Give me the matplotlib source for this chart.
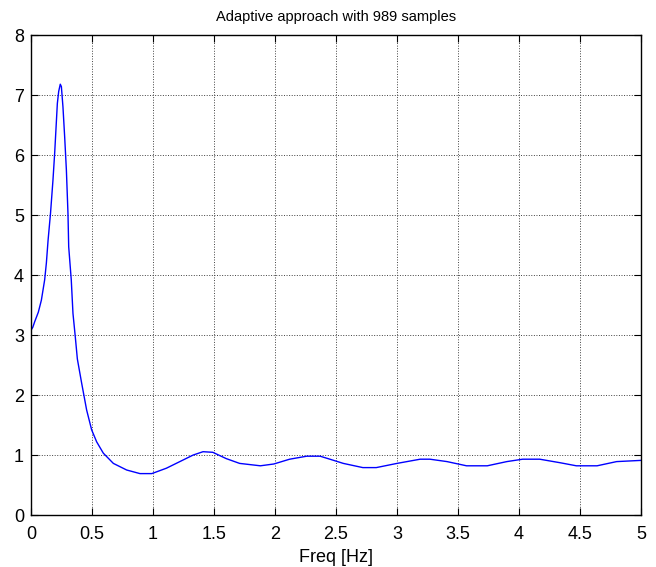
import matplotlib
matplotlib.use("Agg")
import matplotlib.pyplot as plt

# values
freq = [0.0, 0.015, 0.03, 0.06, 0.085, 0.112, 0.126, 0.14, 0.16, 0.18, 0.194,
        0.216, 0.227, 0.24, 0.249, 0.262, 0.276, 0.29, 0.303, 0.309, 0.33,
        0.344, 0.363, 0.38, 0.415, 0.456, 0.497, 0.538, 0.593, 0.675, 0.784,
        0.893, 0.99, 1.11, 1.22, 1.33, 1.41, 1.49, 1.6, 1.71, 1.88, 1.99, 2.12,
        2.26, 2.37, 2.45, 2.56, 2.72, 2.83, 3.0, 3.19, 3.27, 3.41, 3.57, 3.74,
        3.9, 4.03, 4.17, 4.34, 4.47, 4.64, 4.8, 5.0]
power = [3.08, 3.13, 3.22, 3.38, 3.58, 3.92, 4.2, 4.58, 5.03, 5.58, 6.03,
         6.86, 7.06, 7.18, 7.14, 6.8, 6.3, 5.75, 5.03, 4.47, 3.92,
         3.36, 2.97, 2.6, 2.2, 1.75, 1.42, 1.22, 1.03, 0.86, 0.75,
         0.69, 0.69, 0.78, 0.89, 1.0, 1.055, 1.045, 0.94, 0.86, 0.82, 0.85, 0.93,
         0.98, 0.98, 0.93, 0.86, 0.79, 0.79, 0.86, 0.93, 0.93, 0.89, 0.82, 0.82,
         0.89, 0.93, 0.93, 0.87, 0.82, 0.82, 0.89, 0.91]

x_ticks = [0, 0.5, 1, 1.5, 2, 2.5, 3, 3.5, 4, 4.5, 5]
x_labels = ["0", "0.5", "1", "1.5", "2", "2.5", "3", "3.5", "4", "4.5", "5"]
y_ticks = [0, 1, 2, 3, 4, 5, 6, 7, 8]

plt.rcParams['font.family'] = ['Liberation Sans', 'DejaVu Sans']

fig = plt.figure(figsize=(6.56, 5.67), dpi=100)
ax = fig.add_axes([31 / 656, 52 / 567, 610 / 656, 480 / 567])

ax.plot(freq, power, color='#0000ff', linewidth=1.0)

ax.set_xlim(0, 5)
ax.set_ylim(0, 8)
ax.set_xticks(x_ticks)
ax.set_xticklabels(x_labels)
ax.set_yticks(y_ticks)
ax.grid(True, color='#404040', linestyle=':', linewidth=0.7)
ax.tick_params(direction='in', top=True, right=True, length=5, width=0.8,
               labelsize=13, pad=5)
ax.tick_params(axis='x', pad=8)
for s in ax.spines.values():
    s.set_linewidth(1.0)

ax.set_title("Adaptive approach with 989 samples", fontsize=10.5, pad=10)
ax.set_xlabel("Freq [Hz]", fontsize=13, labelpad=4)

fig.savefig("out.png", dpi=100)
